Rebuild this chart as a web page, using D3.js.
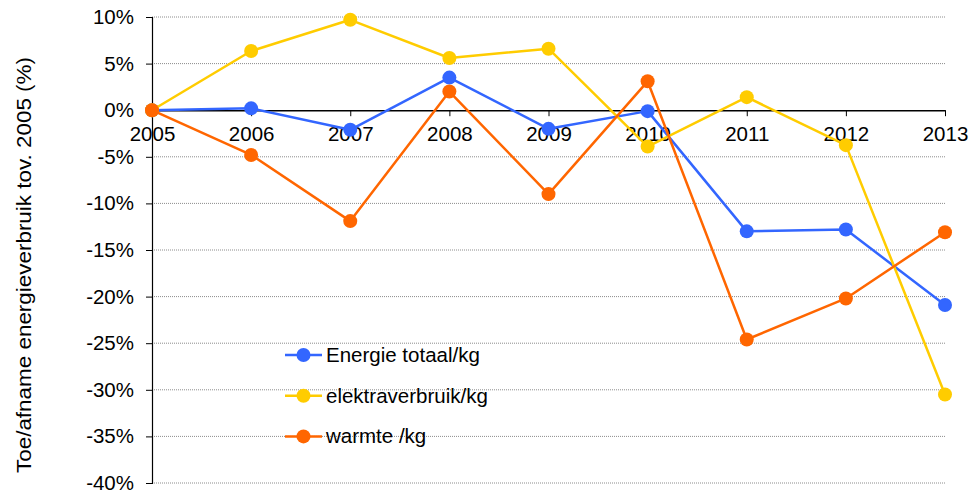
<!DOCTYPE html>
<html>
<head>
<meta charset="utf-8">
<script src="https://cdn.jsdelivr.net/npm/d3@7"></script>
<style>
  html, body { margin: 0; padding: 0; background: #fff; }
  svg { display: block; font-family: "Liberation Sans", Arial, sans-serif; }
</style>
</head>
<body>
<svg id="chart" width="971" height="493"></svg>
<script>
// Years on the category axis
const years = ["2005", "2006", "2007", "2008", "2009", "2010", "2011", "2012", "2013"];

// Change in energy use relative to 2005, in percent
const energieTotaal = [0, 0.2, -2.1, 3.5, -2.0, -0.1, -13.0, -12.8, -20.9];
const elektraverbruik = [0, 6.35, 9.7, 5.6, 6.6, -3.9, 1.4, -3.75, -30.5];
const warmte = [0, -4.8, -11.9, 2.0, -9.0, 3.1, -24.6, -20.2, -13.1];

// Value axis ticks
const yTicks = [10, 5, 0, -5, -10, -15, -20, -25, -30, -35, -40];

const seriesNames = ["Energie totaal/kg", "elektraverbruik/kg", "warmte /kg"];
const seriesColors = ["#3366FF", "#FFCC00", "#FF6600"];
const seriesValues = [energieTotaal, elektraverbruik, warmte];

const svg = d3.select("#chart");
const plotLeft = 152, plotRight = 945, plotTop = 17, plotBottom = 483;
const fontSize = 20.5;

const x = d3.scalePoint().domain(years).range([plotLeft, plotRight]);
const y = d3.scaleLinear().domain([-40, 10]).range([plotBottom, plotTop]);

// Dotted horizontal gridlines
svg.append("g")
  .selectAll("line")
  .data(yTicks.filter(t => t !== 0))
  .join("line")
  .attr("x1", plotLeft).attr("x2", plotRight)
  .attr("y1", d => y(d)).attr("y2", d => y(d))
  .attr("stroke", "#8c8c8c")
  .attr("stroke-width", 1)
  .attr("stroke-dasharray", "1,1");

// Value axis
const yAxis = svg.append("g")
  .attr("transform", `translate(${plotLeft},0)`)
  .call(d3.axisLeft(y).tickValues(yTicks).tickSize(6).tickPadding(12)
    .tickFormat(d => d + "%"));
yAxis.select(".domain").attr("stroke", "#000").attr("stroke-width", 1.2);
yAxis.selectAll(".tick line").attr("stroke", "#000");
yAxis.selectAll("text")
  .attr("font-size", fontSize)
  .attr("fill", "#000")
  .attr("font-family", "Liberation Sans, Arial, sans-serif");

// Category axis through zero
const xAxis = svg.append("g")
  .attr("transform", `translate(0,${y(0)})`)
  .call(d3.axisBottom(x).tickSize(6).tickSizeOuter(0).tickPadding(10.5));
xAxis.select(".domain").attr("stroke", "#000").attr("stroke-width", 1.5);
xAxis.selectAll(".tick line").attr("stroke", "#000");
xAxis.selectAll("text")
  .attr("font-size", fontSize)
  .attr("fill", "#000")
  .attr("font-family", "Liberation Sans, Arial, sans-serif");

// Axis title
svg.append("text")
  .attr("transform", "translate(31,265) rotate(-90)")
  .attr("text-anchor", "middle")
  .attr("font-size", 20.5)
  .attr("fill", "#000")
  .attr("textLength", 416)
  .attr("lengthAdjust", "spacingAndGlyphs")
  .text("Toe/afname energieverbruik tov. 2005 (%)");

// Lines and markers
const line = d3.line().x((d, i) => x(years[i])).y(d => y(d));
seriesValues.forEach((vals, s) => {
  const g = svg.append("g");
  g.append("path")
    .attr("d", line(vals))
    .attr("fill", "none")
    .attr("stroke", seriesColors[s])
    .attr("stroke-width", 2.5)
    .attr("stroke-linejoin", "round");
  g.selectAll("circle")
    .data(vals)
    .join("circle")
    .attr("cx", (d, i) => x(years[i]))
    .attr("cy", d => y(d))
    .attr("r", 7)
    .attr("fill", seriesColors[s]);
});

// Legend
const legend = svg.append("g");
seriesNames.forEach((name, i) => {
  const ly = 355 + i * 40.7;
  legend.append("line")
    .attr("x1", 285).attr("x2", 322)
    .attr("y1", ly).attr("y2", ly)
    .attr("stroke", seriesColors[i])
    .attr("stroke-width", 2.5);
  legend.append("circle")
    .attr("cx", 303.5).attr("cy", ly).attr("r", 7)
    .attr("fill", seriesColors[i]);
  legend.append("text")
    .attr("x", 326).attr("y", ly + 7)
    .attr("font-size", fontSize)
    .attr("fill", "#000")
    .text(name);
});
</script>
</body>
</html>
